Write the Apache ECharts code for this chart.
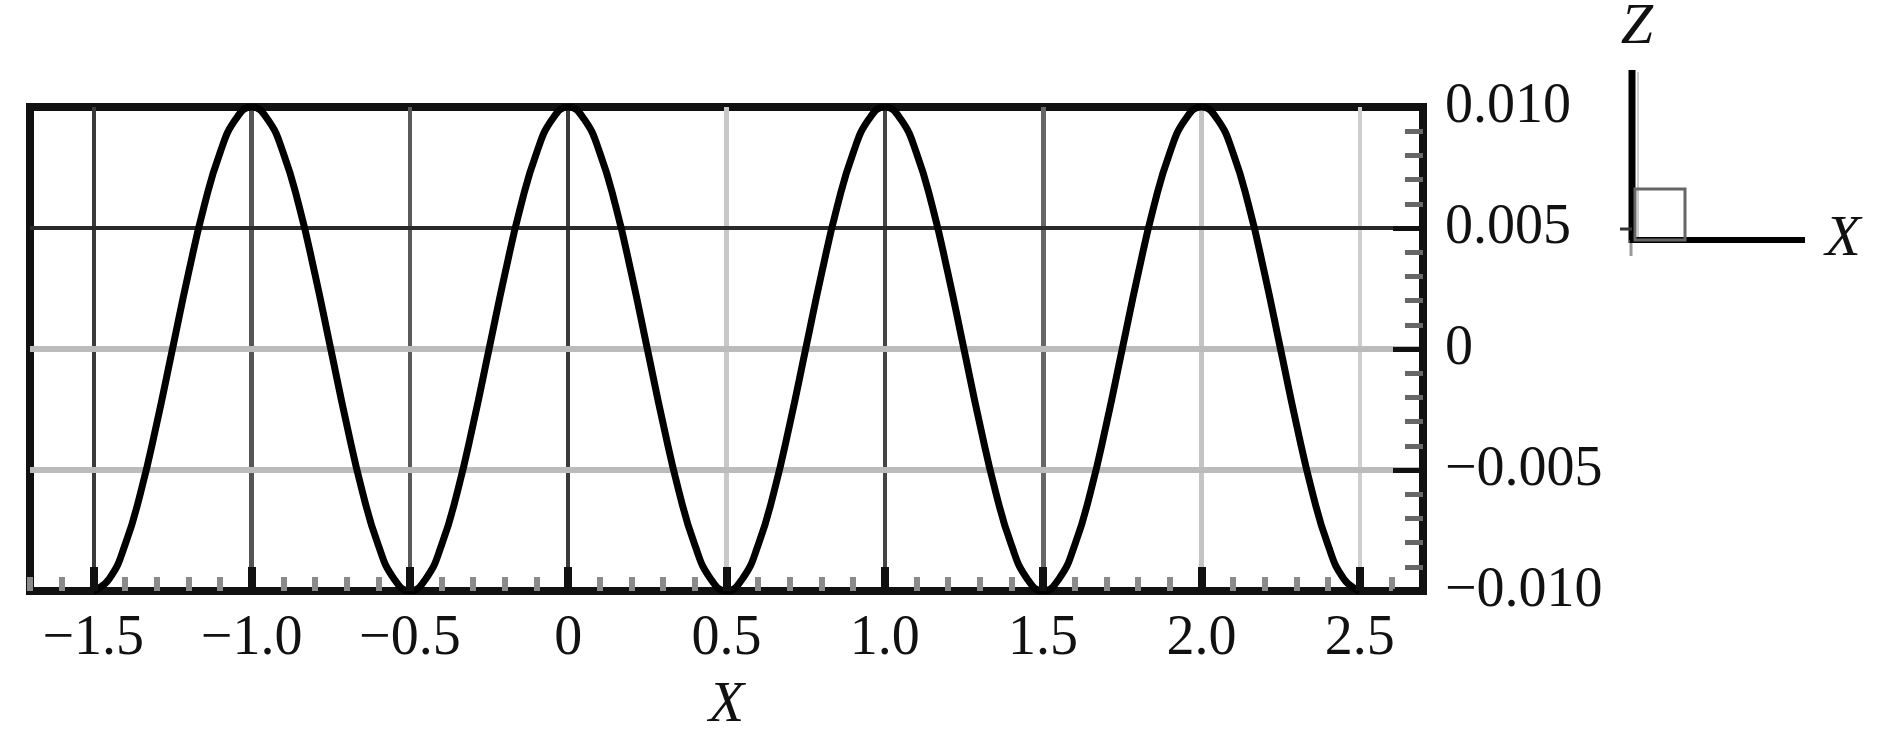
<!DOCTYPE html>
<html>
<head>
<meta charset="utf-8">
<style>
  html, body { margin: 0; padding: 0; background: #fff; }
  #chart-wave { width: 1890px; height: 745px; }
</style>
<script src="https://cdn.jsdelivr.net/npm/echarts@6/dist/echarts.min.js"></script>
</head>
<body>
<div id="chart-wave"></div>
<script>
// curve samples (x, z)
var xVals = [
  -1.50, -1.45, -1.40, -1.35, -1.30, -1.25, -1.20, -1.15, -1.10, -1.05,
  -1.00, -0.95, -0.90, -0.85, -0.80, -0.75, -0.70, -0.65, -0.60, -0.55,
  -0.50, -0.45, -0.40, -0.35, -0.30, -0.25, -0.20, -0.15, -0.10, -0.05,
   0.00,  0.05,  0.10,  0.15,  0.20,  0.25,  0.30,  0.35,  0.40,  0.45,
   0.50,  0.55,  0.60,  0.65,  0.70,  0.75,  0.80,  0.85,  0.90,  0.95,
   1.00,  1.05,  1.10,  1.15,  1.20,  1.25,  1.30,  1.35,  1.40,  1.45,
   1.50,  1.55,  1.60,  1.65,  1.70,  1.75,  1.80,  1.85,  1.90,  1.95,
   2.00,  2.05,  2.10,  2.15,  2.20,  2.25,  2.30,  2.35,  2.40,  2.45,
   2.50
];
var zVals = [
  -0.0100, -0.0095, -0.0081, -0.0059, -0.0031, 0.0000, 0.0031, 0.0059, 0.0081, 0.0095,
   0.0100,  0.0095,  0.0081,  0.0059,  0.0031, 0.0000, -0.0031, -0.0059, -0.0081, -0.0095,
  -0.0100, -0.0095, -0.0081, -0.0059, -0.0031, 0.0000, 0.0031, 0.0059, 0.0081, 0.0095,
   0.0100,  0.0095,  0.0081,  0.0059,  0.0031, 0.0000, -0.0031, -0.0059, -0.0081, -0.0095,
  -0.0100, -0.0095, -0.0081, -0.0059, -0.0031, 0.0000, 0.0031, 0.0059, 0.0081, 0.0095,
   0.0100,  0.0095,  0.0081,  0.0059,  0.0031, 0.0000, -0.0031, -0.0059, -0.0081, -0.0095,
  -0.0100, -0.0095, -0.0081, -0.0059, -0.0031, 0.0000, 0.0031, 0.0059, 0.0081, 0.0095,
   0.0100,  0.0095,  0.0081,  0.0059,  0.0031, 0.0000, -0.0031, -0.0059, -0.0081, -0.0095,
  -0.0100
];

// tick / grid positions
var xMajor = [-1.5, -1.0, -0.5, 0, 0.5, 1.0, 1.5, 2.0, 2.5];
var yGrid = [0.005, 0, -0.005];

// styles for each grid line (same order as above)
var xGridColor = ['#3a3a3a', '#555', '#5a5a5a', '#3a3a3a', '#c8c8c8', '#444', '#666', '#c4c4c4', '#cfcfcf'];
var xGridWidth = [4, 5, 4, 4, 5, 4, 5, 5, 4];
var yGridColor = ['#2a2a2a', '#bbb', '#bbb'];
var yGridWidth = [4, 6, 6];

var serif = 'Liberation Serif';
var xMin = -1.7, xMax = 2.7;

function fmt(v, d) {
  if (Math.abs(v) < 1e-9) return '0';
  return (v < 0 ? '\u2212' : '') + Math.abs(v).toFixed(d);
}

var gridLines = [];
xMajor.forEach(function (x, i) {
  gridLines.push({ xAxis: x, lineStyle: { color: xGridColor[i], width: xGridWidth[i], type: 'solid' } });
});
yGrid.forEach(function (y, i) {
  gridLines.push({ yAxis: y, lineStyle: { color: yGridColor[i], width: yGridWidth[i], type: 'solid' } });
});

var plotRect = { left: 30, top: 107, width: 1393, height: 484 };
// second grid covers only -1.5 .. 2.5 so its ticks start on a major value
var pxPerUnit = plotRect.width / (xMax - xMin);
var majorLeft = plotRect.left + (xMajor[0] - xMin) * pxPerUnit;
var majorWidth = (xMajor[xMajor.length - 1] - xMajor[0]) * pxPerUnit;

var myChart = echarts.init(document.getElementById('chart-wave'));
var option = {
  backgroundColor: '#fff',
  animation: false,
  grid: [
    {
      left: plotRect.left, top: plotRect.top, width: plotRect.width, height: plotRect.height,
      show: true,
      borderColor: '#111',
      borderWidth: 8,
      backgroundColor: 'transparent'
    },
    { left: majorLeft, top: plotRect.top, width: majorWidth, height: plotRect.height, show: false }
  ],
  xAxis: [
    {
      type: 'value',
      gridIndex: 0,
      min: xMin,
      max: xMax,
      interval: 0.1,
      position: 'bottom',
      name: 'X',
      nameLocation: 'middle',
      nameGap: 86,
      nameTextStyle: { fontFamily: serif, fontStyle: 'italic', fontSize: 58, color: '#111' },
      axisLine: { show: true, onZero: false, lineStyle: { color: '#111', width: 8 } },
      splitLine: { show: false },
      axisTick: { show: true, inside: true, length: 14, lineStyle: { color: '#8a8a8a', width: 6 } },
      axisLabel: {
        interval: 0,
        margin: 20,
        color: '#111',
        fontFamily: serif,
        fontSize: 56,
        formatter: function (v) {
          var r = Math.round(v * 2) / 2;
          if (Math.abs(v - r) > 1e-6 || r < -1.5 || r > 2.5) return '';
          return fmt(r, 1);
        }
      }
    },
    {
      type: 'value',
      gridIndex: 1,
      z: 10,
      min: xMajor[0],
      max: xMajor[xMajor.length - 1],
      interval: 0.5,
      position: 'bottom',
      axisLine: { show: false, onZero: false },
      splitLine: { show: false },
      axisLabel: { show: false },
      axisTick: { show: true, inside: true, length: 24, lineStyle: { color: '#111', width: 8 } }
    }
  ],
  yAxis: [
    {
      type: 'value',
      gridIndex: 0,
      z: 10,
      position: 'right',
      min: -0.01,
      max: 0.01,
      interval: 0.005,
      axisLine: { show: true, onZero: false, lineStyle: { color: '#111', width: 8 } },
      splitLine: { show: false },
      axisTick: { show: true, inside: true, length: 30, lineStyle: { color: '#111', width: 5 } },
      minorTick: { show: true, splitNumber: 5, length: 18, lineStyle: { color: '#666', width: 5 } },
      axisLabel: {
        margin: 22,
        color: '#111',
        fontFamily: serif,
        fontSize: 56,
        formatter: function (v) { return fmt(v, 3); }
      }
    },
    {
      type: 'value',
      gridIndex: 1,
      min: -0.01,
      max: 0.01,
      show: false
    }
  ],
  series: [
    {
      type: 'line',
      xAxisIndex: 0,
      yAxisIndex: 0,
      data: xVals.map(function (x, i) { return [x, zVals[i]]; }),
      smooth: true,
      showSymbol: false,
      z: 4,
      lineStyle: { color: '#000', width: 7 },
      markLine: {
        silent: true,
        z: 1,
        precision: 6,
        symbol: ['none', 'none'],
        label: { show: false },
        emphasis: { disabled: true },
        data: gridLines
      }
    }
  ],
  // small axis frame at the top right
  graphic: [
    { type: 'line', shape: { x1: 1638, y1: 72, x2: 1638, y2: 238 }, style: { stroke: '#ccc', lineWidth: 2 }, silent: true },
    { type: 'line', shape: { x1: 1632, y1: 70, x2: 1632, y2: 243 }, style: { stroke: '#000', lineWidth: 7 }, silent: true },
    { type: 'line', shape: { x1: 1631, y1: 240, x2: 1631, y2: 256 }, style: { stroke: '#999', lineWidth: 3 }, silent: true },
    { type: 'line', shape: { x1: 1620, y1: 229, x2: 1632, y2: 229 }, style: { stroke: '#333', lineWidth: 3 }, silent: true },
    { type: 'line', shape: { x1: 1630, y1: 240, x2: 1805, y2: 240 }, style: { stroke: '#000', lineWidth: 6 }, silent: true },
    { type: 'rect', shape: { x: 1635, y: 189, width: 50, height: 51 }, style: { stroke: '#666', fill: 'none', lineWidth: 3 }, silent: true },
    { type: 'text', x: 1637, y: 28, style: { text: 'Z', fill: '#111', font: 'italic 58px "Liberation Serif"', align: 'center', verticalAlign: 'middle' }, silent: true },
    { type: 'text', x: 1843, y: 240, style: { text: 'X', fill: '#111', font: 'italic 58px "Liberation Serif"', align: 'center', verticalAlign: 'middle' }, silent: true }
  ]
};
myChart.setOption(option);

window.addEventListener('resize', function () {
  myChart.resize();
});
</script>
</body>
</html>
